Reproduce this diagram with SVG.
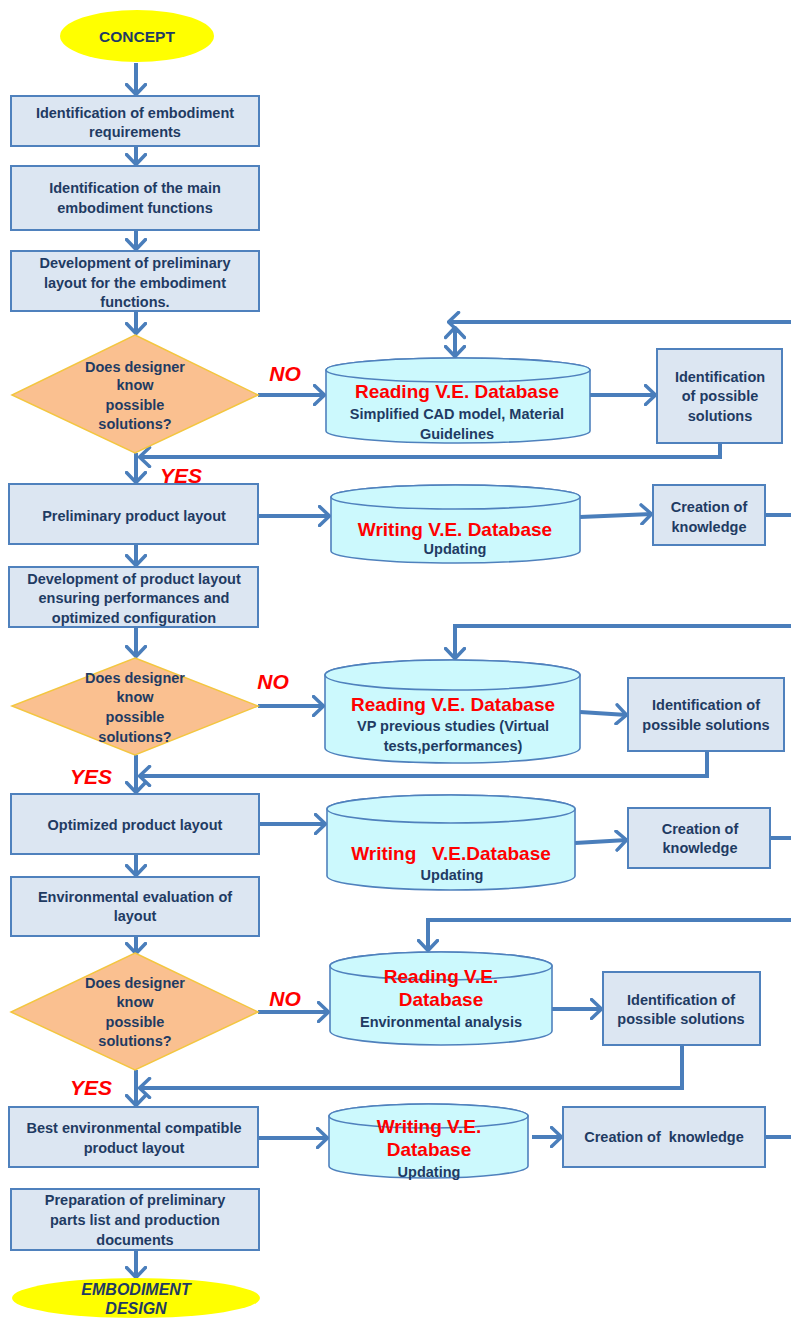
<svg xmlns="http://www.w3.org/2000/svg" width="791" height="1318" viewBox="0 0 791 1318">
  <defs>
    <style>
      .box { fill: #dce6f2; stroke: #4f81bd; stroke-width: 2; }
      .dec { fill: #fac090; stroke: #f3c640; stroke-width: 1.5; }
      .db { fill: #ccf9fd; stroke: #4f81bd; stroke-width: 1.6; }
      .term { fill: #ffff00; }
      .t { font-family: "Liberation Sans", Arial, sans-serif; font-weight: bold; font-size: 14.5px; fill: #1f3b63; text-anchor: middle; }
      .red { fill: #ff0000; font-size: 19px; }
      .lbl { fill: #ff0000; font-style: italic; font-size: 21px; }
      .pre { white-space: pre; }
      .conn { fill: none; stroke: #4a7ebb; stroke-width: 4; }
      .arr { marker-end: url(#ah); }
      .arr2 { marker-start: url(#ah); marker-end: url(#ah); }
    </style>
    <marker id="ah" viewBox="0 0 14 22" refX="12.5" refY="11" markerWidth="14" markerHeight="22" orient="auto-start-reverse" markerUnits="userSpaceOnUse">
      <path d="M2,1.5 L12,11 L2,20.5" fill="none" stroke="#4a7ebb" stroke-width="3.5" stroke-linecap="round" stroke-linejoin="round"/>
    </marker>
  </defs>
  <rect width="791" height="1318" fill="#ffffff"/>

  <!-- connectors -->
  <g id="connectors" class="conn">
    <!-- main column -->
    <line class="arr" x1="136" y1="63" x2="136" y2="95"/>
    <line class="arr" x1="136" y1="147" x2="136" y2="165"/>
    <line class="arr" x1="136" y1="231" x2="136" y2="250"/>
    <line class="arr" x1="136" y1="312" x2="136" y2="334"/>
    <line class="arr" x1="136" y1="453" x2="136" y2="483"/>
    <line class="arr" x1="136" y1="545" x2="136" y2="566"/>
    <line class="arr" x1="136" y1="628" x2="136" y2="657"/>
    <line class="arr" x1="136" y1="755" x2="136" y2="793"/>
    <line class="arr" x1="136" y1="855" x2="136" y2="876"/>
    <line class="arr" x1="136" y1="937" x2="136" y2="954"/>
    <line class="arr" x1="136" y1="1070" x2="136" y2="1106"/>
    <line class="arr" x1="136" y1="1251" x2="136" y2="1278"/>

    <!-- loop 1 -->
    <line class="arr" x1="258" y1="395" x2="325" y2="395"/>
    <line class="arr" x1="590" y1="395" x2="656" y2="395"/>
    <polyline class="arr" points="720,443 720,457 139,457"/>
    <line class="arr" x1="258" y1="516" x2="330" y2="516"/>
    <line class="arr" x1="580" y1="517" x2="652" y2="514"/>
    <line x1="765" y1="515" x2="791" y2="515"/>
    <line class="arr" x1="791" y1="322" x2="448" y2="322"/>
    <line class="arr2" x1="455" y1="327" x2="455" y2="357"/>

    <!-- loop 2 -->
    <line class="arr" x1="258" y1="706" x2="324" y2="706"/>
    <line class="arr" x1="580" y1="712" x2="627" y2="715"/>
    <polyline class="arr" points="707,751 707,776 139,776"/>
    <line class="arr" x1="259" y1="824" x2="326" y2="824"/>
    <line class="arr" x1="575" y1="843" x2="627" y2="840"/>
    <line x1="770" y1="838" x2="791" y2="838"/>
    <polyline class="arr" points="791,626 455,626 455,659"/>

    <!-- loop 3 -->
    <line class="arr" x1="258" y1="1012" x2="329" y2="1012"/>
    <line class="arr" x1="552" y1="1009" x2="602" y2="1009"/>
    <polyline class="arr" points="682,1045 682,1088 139,1088"/>
    <line class="arr" x1="258" y1="1138" x2="328" y2="1138"/>
    <line class="arr" x1="532" y1="1137" x2="562" y2="1137"/>
    <line x1="765" y1="1137" x2="791" y2="1137"/>
    <polyline class="arr" points="791,920 428,920 428,951"/>
  </g>

  <!-- branch labels -->
  <g id="labels" class="t lbl">
    <text x="285" y="381">NO</text>
    <text x="181" y="483">YES</text>
    <text x="273" y="689">NO</text>
    <text x="91" y="784">YES</text>
    <text x="285" y="1006">NO</text>
    <text x="91" y="1095">YES</text>
  </g>

  <!-- start -->
  <g id="concept">
    <ellipse class="term" cx="137" cy="36" rx="77" ry="26"/>
    <text class="t" x="137" y="42" style="font-size:15.5px">CONCEPT</text>
  </g>

  <g id="req">
    <rect class="box" x="11" y="96" width="248" height="50"/>
    <text class="t" x="135" y="118">Identification of embodiment</text>
    <text class="t" x="135" y="137">requirements</text>
  </g>

  <g id="functions">
    <rect class="box" x="11" y="166" width="248" height="64"/>
    <text class="t" x="135" y="193">Identification of the main</text>
    <text class="t" x="135" y="213">embodiment functions</text>
  </g>

  <g id="prelim-layout-dev">
    <rect class="box" x="11" y="251" width="248" height="60"/>
    <text class="t" x="135" y="268">Development of preliminary</text>
    <text class="t" x="135" y="288">layout for the embodiment</text>
    <text class="t" x="135" y="307">functions.</text>
  </g>

  <g id="decision-1">
    <polygon class="dec" points="135,335 258,395 135,453 12,395"/>
    <text class="t" x="135" y="372">Does designer</text>
    <text class="t" x="135" y="390">know</text>
    <text class="t" x="135" y="410">possible</text>
    <text class="t" x="135" y="429">solutions?</text>
  </g>

  <g id="read-db-1">
    <path class="db" d="M326,370 V431 A132,12 0 0 0 590,431 V370 A132,12 0 0 0 326,370 Z"/>
    <ellipse class="db" cx="458" cy="370" rx="132" ry="12"/>
    <text class="t red" x="457" y="398">Reading V.E. Database</text>
    <text class="t" x="457" y="419">Simplified  CAD model, Material</text>
    <text class="t" x="457" y="439">Guidelines</text>
  </g>

  <g id="solutions-1">
    <rect class="box" x="657" y="349" width="125" height="94"/>
    <text class="t" x="720" y="382">Identification</text>
    <text class="t" x="720" y="401">of possible</text>
    <text class="t" x="720" y="421">solutions</text>
  </g>

  <g id="prelim-layout">
    <rect class="box" x="9" y="484" width="249" height="60"/>
    <text class="t" x="134" y="521">Preliminary product layout</text>
  </g>

  <g id="write-db-1">
    <path class="db" d="M331,497 V551 A124.5,12 0 0 0 580,551 V497 A124.5,12 0 0 0 331,497 Z"/>
    <ellipse class="db" cx="455.5" cy="497" rx="124.5" ry="12"/>
    <text class="t red" x="455" y="536">Writing V.E. Database</text>
    <text class="t" x="455" y="554">Updating</text>
  </g>

  <g id="knowledge-1">
    <rect class="box" x="653" y="485" width="112" height="60"/>
    <text class="t" x="709" y="512">Creation of</text>
    <text class="t" x="709" y="532">knowledge</text>
  </g>

  <g id="product-layout-dev">
    <rect class="box" x="9" y="567" width="249" height="60"/>
    <text class="t" x="134" y="584">Development of  product layout</text>
    <text class="t" x="134" y="603">ensuring performances and</text>
    <text class="t" x="134" y="623">optimized configuration</text>
  </g>

  <g id="decision-2">
    <polygon class="dec" points="135,658 258,706 135,755 12,706"/>
    <text class="t" x="135" y="683">Does designer</text>
    <text class="t" x="135" y="702">know</text>
    <text class="t" x="135" y="722">possible</text>
    <text class="t" x="135" y="742">solutions?</text>
  </g>

  <g id="read-db-2">
    <path class="db" d="M325,675 V748 A127.5,15 0 0 0 580,748 V675 A127.5,15 0 0 0 325,675 Z"/>
    <ellipse class="db" cx="452.5" cy="675" rx="127.5" ry="15"/>
    <text class="t red" x="453" y="711">Reading V.E. Database</text>
    <text class="t" x="453" y="731">VP previous studies (Virtual</text>
    <text class="t" x="453" y="751">tests,performances)</text>
  </g>

  <g id="solutions-2">
    <rect class="box" x="628" y="678" width="156" height="73"/>
    <text class="t" x="706" y="710">Identification of</text>
    <text class="t" x="706" y="730">possible solutions</text>
  </g>

  <g id="optimized-layout">
    <rect class="box" x="11" y="794" width="248" height="60"/>
    <text class="t" x="135" y="830">Optimized product layout</text>
  </g>

  <g id="write-db-2">
    <path class="db" d="M327,809 V876 A124,14 0 0 0 575,876 V809 A124,14 0 0 0 327,809 Z"/>
    <ellipse class="db" cx="451" cy="809" rx="124" ry="14"/>
    <text class="t red pre" x="451" y="860">Writing   V.E.Database</text>
    <text class="t" x="452" y="880">Updating</text>
  </g>

  <g id="knowledge-2">
    <rect class="box" x="628" y="808" width="142" height="60"/>
    <text class="t" x="700" y="834">Creation of</text>
    <text class="t" x="700" y="853">knowledge</text>
  </g>

  <g id="env-evaluation">
    <rect class="box" x="11" y="877" width="248" height="59"/>
    <text class="t" x="135" y="902">Environmental evaluation of</text>
    <text class="t" x="135" y="921">layout</text>
  </g>

  <g id="decision-3">
    <polygon class="dec" points="135,953 258,1012 135,1070 11,1012"/>
    <text class="t" x="135" y="988">Does designer</text>
    <text class="t" x="135" y="1007">know</text>
    <text class="t" x="135" y="1027">possible</text>
    <text class="t" x="135" y="1046">solutions?</text>
  </g>

  <g id="read-db-3">
    <path class="db" d="M330,966 V1031 A111,14 0 0 0 552,1031 V966 A111,14 0 0 0 330,966 Z"/>
    <ellipse class="db" cx="441" cy="966" rx="111" ry="14"/>
    <text class="t red" x="441" y="983">Reading V.E.</text>
    <text class="t red" x="441" y="1006">Database</text>
    <text class="t" x="441" y="1027">Environmental analysis</text>
  </g>

  <g id="solutions-3">
    <rect class="box" x="603" y="972" width="157" height="73"/>
    <text class="t" x="681" y="1005">Identification of</text>
    <text class="t" x="681" y="1024">possible solutions</text>
  </g>

  <g id="best-layout">
    <rect class="box" x="9" y="1107" width="249" height="60"/>
    <text class="t" x="134" y="1133">Best environmental compatible</text>
    <text class="t" x="134" y="1153">product layout</text>
  </g>

  <g id="write-db-3">
    <path class="db" d="M329,1116 V1166 A99.5,12 0 0 0 528,1166 V1116 A99.5,12 0 0 0 329,1116 Z"/>
    <ellipse class="db" cx="428.5" cy="1116" rx="99.5" ry="12"/>
    <text class="t red" x="429" y="1133">Writing V.E.</text>
    <text class="t red" x="429" y="1156">Database</text>
    <text class="t" x="429" y="1177">Updating</text>
  </g>

  <g id="knowledge-3">
    <rect class="box" x="563" y="1107" width="202" height="60"/>
    <text class="t pre" x="664" y="1142">Creation of  knowledge</text>
  </g>

  <g id="parts-list">
    <rect class="box" x="11" y="1189" width="248" height="61"/>
    <text class="t" x="135" y="1205">Preparation of preliminary</text>
    <text class="t" x="135" y="1225">parts list and production</text>
    <text class="t" x="135" y="1245">documents</text>
  </g>

  <g id="embodiment-design">
    <ellipse class="term" cx="136" cy="1298" rx="124" ry="20"/>
    <text class="t" x="136" y="1295" style="font-style:italic;font-size:16px">EMBODIMENT</text>
    <text class="t" x="136" y="1314" style="font-style:italic;font-size:16px">DESIGN</text>
  </g>
</svg>
